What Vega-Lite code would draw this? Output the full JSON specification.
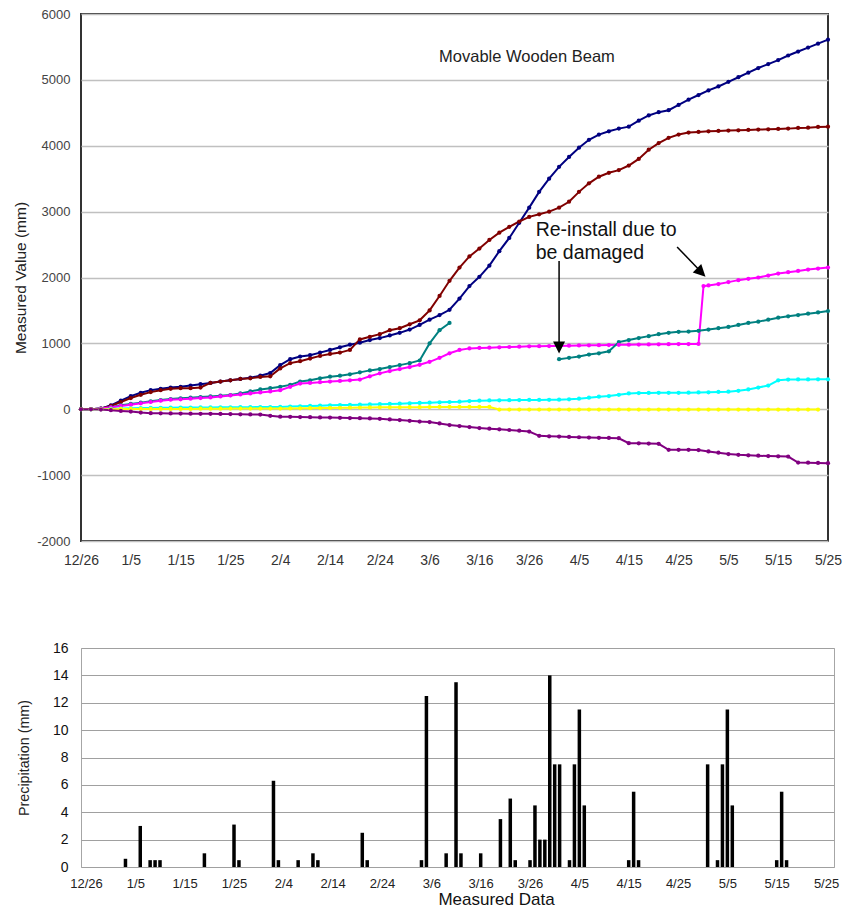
{
  "$schema": "https://vega.github.io/schema/vega-lite/v6.json",
  "background": "white",
  "padding": {"left": 12, "top": 7, "right": 0, "bottom": 0},
  "spacing": 72,
  "columns": 1,
  "align": "none",
  "config": {
    "font": "Liberation Sans",
    "axis": {"labelFont": "Liberation Sans", "titleFont": "Liberation Sans"},
    "text": {"font": "Liberation Sans"}
  },
  "resolve": {"scale": {"x": "independent", "y": "independent"}},
  "datasets": {
    "series": [
      {"d":0,"a":0,"b":0,"c":0,"m":0,"y":0,"w":0,"p":0},
      {"d":2,"a":0,"b":0,"c":0,"m":0,"y":0,"w":0,"p":0},
      {"d":4,"a":10,"b":10,"c":10,"m":10,"y":0,"w":0,"p":-5},
      {"d":6,"a":60,"b":50,"c":30,"m":30,"y":5,"w":0,"p":-15},
      {"d":8,"a":130,"b":110,"c":60,"m":50,"y":10,"w":5,"p":-25},
      {"d":10,"a":200,"b":170,"c":80,"m":70,"y":15,"w":5,"p":-36},
      {"d":12,"a":250,"b":220,"c":100,"m":90,"y":18,"w":5,"p":-50},
      {"d":14,"a":290,"b":260,"c":120,"m":110,"y":20,"w":5,"p":-60},
      {"d":16,"a":310,"b":290,"c":140,"m":130,"y":22,"w":5,"p":-62},
      {"d":18,"a":330,"b":310,"c":155,"m":145,"y":24,"w":5,"p":-64},
      {"d":20,"a":340,"b":320,"c":166,"m":150,"y":25,"w":5,"p":-65},
      {"d":22,"a":360,"b":320,"c":175,"m":160,"y":26,"w":5,"p":-67},
      {"d":24,"a":380,"b":330,"c":185,"m":170,"y":27,"w":8,"p":-69},
      {"d":26,"a":400,"b":400,"c":195,"m":180,"y":28,"w":8,"p":-70},
      {"d":28,"a":420,"b":420,"c":205,"m":195,"y":29,"w":8,"p":-72},
      {"d":30,"a":440,"b":440,"c":216,"m":210,"y":30,"w":10,"p":-74},
      {"d":32,"a":460,"b":460,"c":240,"m":225,"y":31,"w":10,"p":-76},
      {"d":34,"a":480,"b":470,"c":270,"m":240,"y":32,"w":10,"p":-78},
      {"d":36,"a":510,"b":490,"c":300,"m":255,"y":33,"w":10,"p":-80},
      {"d":38,"a":550,"b":500,"c":320,"m":270,"y":34,"w":10,"p":-100},
      {"d":40,"a":670,"b":620,"c":340,"m":290,"y":35,"w":10,"p":-112},
      {"d":42,"a":760,"b":700,"c":370,"m":340,"y":40,"w":12,"p":-115},
      {"d":44,"a":800,"b":730,"c":420,"m":390,"y":45,"w":14,"p":-118},
      {"d":46,"a":820,"b":770,"c":440,"m":400,"y":50,"w":16,"p":-121},
      {"d":48,"a":860,"b":810,"c":470,"m":410,"y":55,"w":18,"p":-124},
      {"d":50,"a":900,"b":840,"c":494,"m":420,"y":60,"w":20,"p":-127},
      {"d":52,"a":940,"b":860,"c":510,"m":430,"y":63,"w":22,"p":-130},
      {"d":54,"a":980,"b":900,"c":530,"m":440,"y":66,"w":24,"p":-133},
      {"d":56,"a":1010,"b":1060,"c":560,"m":450,"y":70,"w":26,"p":-136},
      {"d":58,"a":1050,"b":1100,"c":590,"m":500,"y":73,"w":28,"p":-140},
      {"d":60,"a":1080,"b":1140,"c":610,"m":545,"y":76,"w":30,"p":-145},
      {"d":62,"a":1120,"b":1200,"c":640,"m":580,"y":80,"w":30,"p":-155},
      {"d":64,"a":1160,"b":1230,"c":670,"m":610,"y":85,"w":30,"p":-165},
      {"d":66,"a":1210,"b":1290,"c":700,"m":640,"y":90,"w":32,"p":-175},
      {"d":68,"a":1280,"b":1350,"c":740,"m":675,"y":95,"w":32,"p":-187},
      {"d":70,"a":1360,"b":1500,"c":1000,"m":720,"y":100,"w":34,"p":-195},
      {"d":72,"a":1430,"b":1720,"c":1200,"m":780,"y":105,"w":35,"p":-215},
      {"d":74,"a":1510,"b":1950,"c":1310,"m":850,"y":110,"w":35,"p":-240},
      {"d":76,"a":1680,"b":2150,"m":900,"y":115,"w":35,"p":-255},
      {"d":78,"a":1870,"b":2320,"m":924,"y":125,"w":35,"p":-270},
      {"d":80,"a":2010,"b":2440,"m":930,"y":130,"w":35,"p":-285},
      {"d":82,"a":2180,"b":2570,"m":935,"y":133,"w":35,"p":-295},
      {"d":84,"a":2400,"b":2680,"m":940,"y":136,"w":-5,"p":-305},
      {"d":86,"a":2600,"b":2770,"m":945,"y":138,"w":-5,"p":-315},
      {"d":88,"a":2830,"b":2850,"m":950,"y":140,"w":-5,"p":-325},
      {"d":90,"a":3060,"b":2920,"m":955,"y":141,"w":-5,"p":-339},
      {"d":92,"a":3300,"b":2960,"m":958,"y":142,"w":-5,"p":-404},
      {"d":94,"a":3500,"b":3000,"m":960,"y":143,"w":-5,"p":-410},
      {"d":96,"a":3680,"b":3060,"e":760,"m":962,"y":145,"w":-5,"p":-415},
      {"d":98,"a":3830,"b":3150,"e":780,"m":965,"y":150,"w":-5,"p":-420},
      {"d":100,"a":3970,"b":3300,"e":800,"m":968,"y":160,"w":-5,"p":-425},
      {"d":102,"a":4090,"b":3430,"e":830,"m":970,"y":175,"w":-5,"p":-430},
      {"d":104,"a":4170,"b":3530,"e":850,"m":972,"y":190,"w":-5,"p":-433},
      {"d":106,"a":4220,"b":3590,"e":880,"m":975,"y":200,"w":-5,"p":-436},
      {"d":108,"a":4260,"b":3630,"e":1020,"m":978,"y":220,"w":-5,"p":-440},
      {"d":110,"a":4290,"b":3700,"e":1050,"m":980,"y":240,"w":-5,"p":-515},
      {"d":112,"a":4380,"b":3800,"e":1080,"m":982,"y":245,"w":-5,"p":-518},
      {"d":114,"a":4460,"b":3940,"e":1110,"m":984,"y":248,"w":-5,"p":-520},
      {"d":116,"a":4510,"b":4040,"e":1140,"m":986,"y":250,"w":-5,"p":-525},
      {"d":118,"a":4540,"b":4120,"e":1160,"m":988,"y":250,"w":-5,"p":-616},
      {"d":120,"a":4620,"b":4170,"e":1175,"m":989,"y":250,"w":-5,"p":-616},
      {"d":122,"a":4700,"b":4200,"e":1180,"m":990,"y":252,"w":-5,"p":-616},
      {"d":124,"a":4770,"b":4210,"e":1190,"m":992,"y":255,"w":-5,"p":-620},
      {"d":125,"m":1870},
      {"d":126,"a":4840,"b":4220,"e":1210,"m":1880,"y":258,"w":-5,"p":-640},
      {"d":128,"a":4900,"b":4225,"e":1230,"m":1900,"y":262,"w":-5,"p":-660},
      {"d":130,"a":4970,"b":4230,"e":1250,"m":1930,"y":267,"w":-5,"p":-680},
      {"d":132,"a":5040,"b":4235,"e":1280,"m":1960,"y":280,"w":-5,"p":-692},
      {"d":134,"a":5110,"b":4240,"e":1310,"m":1980,"y":300,"w":-5,"p":-700},
      {"d":136,"a":5180,"b":4245,"e":1330,"m":2000,"y":330,"w":-5,"p":-705},
      {"d":138,"a":5240,"b":4250,"e":1360,"m":2030,"y":360,"w":-5,"p":-710},
      {"d":140,"a":5300,"b":4255,"e":1390,"m":2060,"y":440,"w":-5,"p":-715},
      {"d":142,"a":5370,"b":4260,"e":1410,"m":2080,"y":450,"w":-5,"p":-718},
      {"d":144,"a":5430,"b":4270,"e":1430,"m":2100,"y":452,"w":-5,"p":-809},
      {"d":146,"a":5490,"b":4275,"e":1450,"m":2120,"y":453,"w":-5,"p":-812},
      {"d":148,"a":5550,"b":4285,"e":1470,"m":2135,"y":454,"w":-5,"p":-815},
      {"d":150,"a":5610,"b":4290,"e":1490,"m":2150,"y":455,"p":-818}
    ],
    "rain": [
      {"day":8,"p":0.6},{"day":11,"p":3.0},{"day":13,"p":0.5},{"day":14,"p":0.5},{"day":15,"p":0.5},
      {"day":24,"p":1.0},{"day":30,"p":3.1},{"day":31,"p":0.5},{"day":38,"p":6.3},{"day":39,"p":0.5},
      {"day":43,"p":0.5},{"day":46,"p":1.0},{"day":47,"p":0.5},{"day":56,"p":2.5},{"day":57,"p":0.5},
      {"day":68,"p":0.5},{"day":69,"p":12.5},{"day":73,"p":1.0},{"day":75,"p":13.5},{"day":76,"p":1.0},
      {"day":80,"p":1.0},{"day":84,"p":3.5},{"day":86,"p":5.0},{"day":87,"p":0.5},{"day":90,"p":0.5},
      {"day":91,"p":4.5},{"day":92,"p":2.0},{"day":93,"p":2.0},{"day":94,"p":14.0},{"day":95,"p":7.5},
      {"day":96,"p":7.5},{"day":98,"p":0.5},{"day":99,"p":7.5},{"day":100,"p":11.5},{"day":101,"p":4.5},
      {"day":110,"p":0.5},{"day":111,"p":5.5},{"day":112,"p":0.5},{"day":126,"p":7.5},{"day":128,"p":0.5},
      {"day":129,"p":7.5},{"day":130,"p":11.5},{"day":131,"p":4.5},{"day":140,"p":0.5},{"day":141,"p":5.5},
      {"day":142,"p":0.5}
    ]
  },
  "concat": [
    {
      "width": 747,
      "height": 527,
      "view": {"stroke": "#333333", "strokeWidth": 2},
      "layer": [
        {
          "data": {"name": "series"},
          "transform": [
            {"fold": ["a", "b", "c", "e", "m", "y", "w", "p"], "as": ["k", "v"]},
            {"filter": "isValid(datum.v)"}
          ],
          "mark": {"type": "line", "strokeWidth": 2, "point": {"filled": true, "size": 18}},
          "encoding": {
            "x": {
              "field": "d", "type": "quantitative",
              "scale": {"domain": [0, 150], "nice": false, "zero": false},
              "axis": {
                "values": [0, 10, 20, 30, 40, 50, 60, 70, 80, 90, 100, 110, 120, 130, 140, 150],
                "labelExpr": "timeFormat(datetime(2006, 11, 26 + datum.value), '%-m/%-d')",
                "grid": false, "ticks": false, "domain": false,
                "labelFontSize": 14, "labelColor": "#333333", "labelPadding": 12,
                "labelFlush": false, "labelOverlap": false, "title": null
              }
            },
            "y": {
              "field": "v", "type": "quantitative",
              "scale": {"domain": [-2000, 6000], "nice": false},
              "axis": {
                "values": [-2000, -1000, 0, 1000, 2000, 3000, 4000, 5000, 6000],
                "labelExpr": "'' + datum.value",
                "grid": true, "gridColor": "#c0c0c0", "gridWidth": 1.5,
                "ticks": false, "domain": false,
                "labelFontSize": 13, "labelColor": "#444444", "labelPadding": 11,
                "minExtent": 44, "maxExtent": 44,
                "title": "Measured Value (mm)", "titleFontSize": 15.5, "titleFontWeight": "normal",
                "titleColor": "#222222", "titlePadding": 9
              }
            },
            "color": {
              "field": "k", "type": "nominal",
              "scale": {
                "domain": ["a", "b", "c", "e", "m", "y", "w", "p"],
                "range": ["#000080", "#800000", "#008080", "#008080", "#ff00ff", "#00ffff", "#ffff00", "#800080"]
              },
              "legend": null
            }
          }
        },
        {
          "data": {"values": [{"d": 96.0, "v": 2252, "d2": 96.0, "v2": 1000}, {"d": 119.7, "v": 2464, "d2": 124.2, "v2": 2110}]},
          "mark": {"type": "rule", "color": "black", "strokeWidth": 1.5},
          "encoding": {
            "x": {"field": "d", "type": "quantitative"},
            "y": {"field": "v", "type": "quantitative"},
            "x2": {"field": "d2"},
            "y2": {"field": "v2"}
          }
        },
        {
          "data": {"values": [{"d": 96.0, "v": 848}]},
          "mark": {"type": "point", "shape": "M-1,-2L1,-2L0,0Z", "size": 144, "filled": true, "color": "black", "opacity": 1},
          "encoding": {
            "x": {"field": "d", "type": "quantitative"},
            "y": {"field": "v", "type": "quantitative"}
          }
        },
        {
          "data": {"values": [{"d": 125.4, "v": 2012}]},
          "mark": {"type": "point", "shape": "M-1,-2L1,-2L0,0Z", "size": 144, "filled": true, "color": "black", "opacity": 1, "angle": 315},
          "encoding": {
            "x": {"field": "d", "type": "quantitative"},
            "y": {"field": "v", "type": "quantitative"}
          }
        },
        {
          "data": {"values": [{"d": 71.9, "v": 5267, "t": "Movable Wooden Beam"}]},
          "mark": {"type": "text", "align": "left", "baseline": "alphabetic", "fontSize": 16.5, "color": "#222222"},
          "encoding": {
            "x": {"field": "d", "type": "quantitative"},
            "y": {"field": "v", "type": "quantitative"},
            "text": {"field": "t"}
          }
        },
        {
          "data": {"values": [{"d": 91.3, "v": 2630, "t": "Re-install due to"}, {"d": 91.3, "v": 2288, "t": "be damaged"}]},
          "mark": {"type": "text", "align": "left", "baseline": "alphabetic", "fontSize": 19.5, "color": "#111111"},
          "encoding": {
            "x": {"field": "d", "type": "quantitative"},
            "y": {"field": "v", "type": "quantitative"},
            "text": {"field": "t"}
          }
        }
      ]
    },
    {
      "width": 753,
      "height": 219,
      "view": {"stroke": "#a6a6a6", "strokeWidth": 1},
      "data": {"name": "rain"},
      "mark": {"type": "bar", "width": 3.5, "color": "black"},
      "encoding": {
        "x": {
          "field": "day", "type": "quantitative",
          "scale": {"domain": [0, 150.6], "nice": false, "zero": false},
          "axis": {
            "values": [0, 10, 20, 30, 40, 50, 60, 70, 80, 90, 100, 110, 120, 130, 140, 150],
            "labelExpr": "timeFormat(datetime(2006, 11, 26 + datum.value), '%-m/%-d')",
            "grid": false, "ticks": false, "domain": false,
            "labelFontSize": 13, "labelColor": "#222222", "labelPadding": 10,
            "labelFlush": false, "labelOverlap": false,
            "title": "Measured Data", "titleFontSize": 17, "titleFontWeight": "normal", "titleColor": "#111111",
            "titleX": 415, "titleY": 37, "titleBaseline": "alphabetic", "titleAlign": "center"
          }
        },
        "y": {
          "field": "p", "type": "quantitative",
          "scale": {"domain": [0, 16], "nice": false},
          "axis": {
            "values": [0, 2, 4, 6, 8, 10, 12, 14, 16],
            "grid": true, "gridColor": "#a0a0a0", "gridWidth": 1.2,
            "ticks": false, "domain": false,
            "labelFontSize": 14, "labelColor": "#111111", "labelPadding": 13,
            "minExtent": 29, "maxExtent": 29,
            "title": "Precipitation (mm)", "titleFontSize": 14.3, "titleFontWeight": "normal",
            "titleColor": "#222222", "titlePadding": 20.5
          }
        }
      }
    }
  ]
}
